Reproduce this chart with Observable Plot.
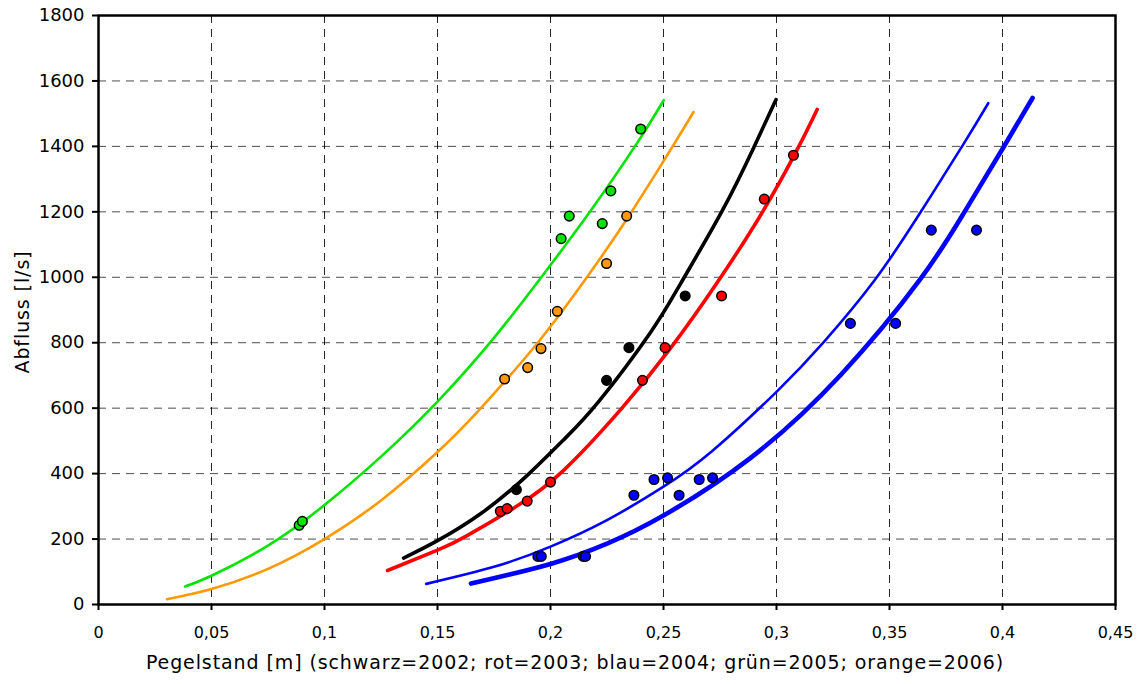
<!DOCTYPE html>
<html>
<head>
<meta charset="utf-8">
<script src="https://cdn.jsdelivr.net/npm/d3@7"></script>
<script src="https://cdn.jsdelivr.net/npm/@observablehq/plot@0.6"></script>
<style>
  body { margin: 0; background: #fff; }
  #chart svg { font-family: "DejaVu Sans", Verdana, sans-serif; }
</style>
</head>
<body>
<div id="chart"></div>
<script>
// Tick values
const xTicks = [0, 0.05, 0.1, 0.15, 0.2, 0.25, 0.3, 0.35, 0.4, 0.45];
const yTicks = [0, 200, 400, 600, 800, 1000, 1200, 1400, 1600, 1800];

// Fitted curves: [Pegelstand m, Abfluss l/s]
const greenCurve = [[0.0383, 55], [0.05, 88], [0.075, 180], [0.1, 304], [0.125, 452], [0.15, 620], [0.175, 815], [0.1955, 996], [0.2176, 1202], [0.2383, 1410], [0.2501, 1541]];
const orangeCurve = [[0.0303, 16], [0.05, 47], [0.075, 109], [0.1, 200], [0.125, 318], [0.15, 466], [0.1689, 598], [0.1947, 803], [0.2161, 1000], [0.2338, 1178], [0.2544, 1404], [0.2633, 1505]];
const blackCurve = [[0.135, 142], [0.15, 195], [0.17, 282], [0.1896, 394], [0.2056, 502], [0.2213, 620], [0.2441, 830], [0.2575, 980], [0.2759, 1202], [0.2899, 1396], [0.2998, 1543]];
const redCurve = [[0.1279, 104], [0.15, 166], [0.1625, 208], [0.185, 300], [0.2058, 410], [0.2316, 600], [0.2532, 784], [0.2734, 980], [0.2941, 1203], [0.3096, 1396], [0.318, 1513]];
const blueThinCurve = [[0.145, 63], [0.175, 115], [0.2, 177], [0.225, 258], [0.25, 360], [0.2717, 470], [0.3, 650], [0.3209, 802], [0.3434, 991], [0.3633, 1194], [0.383, 1410], [0.3937, 1532]];
const blueThickCurve = [[0.1648, 64], [0.2, 124], [0.225, 186], [0.25, 272], [0.2887, 449], [0.3286, 703], [0.3633, 991], [0.3826, 1193], [0.4003, 1396], [0.4133, 1548]];

// Measured points
const greenPts = [[0.0888, 242], [0.0902, 254], [0.2047, 1118], [0.2083, 1187], [0.2229, 1164], [0.2267, 1264], [0.2399, 1453]];
const orangePts = [[0.1797, 689], [0.1899, 724], [0.1958, 782], [0.203, 896], [0.2248, 1042], [0.2337, 1187]];
const blackPts = [[0.1849, 351], [0.2248, 685], [0.2347, 785], [0.2596, 943]];
const redPts = [[0.1778, 285], [0.1808, 293], [0.1897, 316], [0.2, 374], [0.2407, 685], [0.2507, 785], [0.2757, 943], [0.2946, 1239], [0.3075, 1373]];
const bluePts = [[0.1944, 147], [0.1959, 147], [0.2145, 147], [0.2155, 147], [0.2369, 334], [0.2458, 382], [0.2518, 387], [0.2569, 334], [0.2658, 382], [0.2717, 387], [0.3327, 859], [0.3527, 859], [0.3685, 1144], [0.3885, 1144]];

const xTitle = "Pegelstand [m] (schwarz=2002; rot=2003; blau=2004; grün=2005; orange=2006)";
const yTitle = "Abfluss [l/s]";

const toObj = arr => arr.map(([x, y]) => ({x, y}));

const GREEN = "#00e400", ORANGE = "#ff9900", RED = "#ff0000", BLUE = "#0000ff", BLACK = "#000000";

const curveMark = (data, color, w) => Plot.line(toObj(data), {x: "x", y: "y", stroke: color, strokeWidth: w, curve: "natural", strokeLinecap: "round"});
const dotMark = (data, color) => Plot.dot(toObj(data), {x: "x", y: "y", r: 4.8, fill: color, stroke: "black", strokeWidth: 1.5});

const chart = Plot.plot({
  width: 1139,
  height: 684,
  marginLeft: 98,
  marginRight: 24,
  marginTop: 15,
  marginBottom: 80,
  style: {fontFamily: "DejaVu Sans, Verdana, sans-serif", fontSize: "16px", background: "#fff"},
  x: {domain: [0, 0.45], ticks: xTicks},
  y: {domain: [0, 1800], ticks: yTicks},
  marks: [
    Plot.gridX(xTicks, {stroke: "#000", strokeOpacity: 0.85, strokeWidth: 1, strokeDasharray: "8,6"}),
    Plot.gridY(yTicks, {stroke: "#000", strokeOpacity: 0.7, strokeWidth: 1, strokeDasharray: "8,6"}),
    curveMark(greenCurve, GREEN, 2.6),
    curveMark(orangeCurve, ORANGE, 2.6),
    curveMark(blackCurve, BLACK, 3.6),
    curveMark(redCurve, RED, 3.6),
    curveMark(blueThinCurve, BLUE, 2.6),
    curveMark(blueThickCurve, BLUE, 4.6),
    dotMark(greenPts, GREEN),
    dotMark(orangePts, ORANGE),
    dotMark(redPts, RED),
    dotMark(blackPts, BLACK),
    dotMark(bluePts, BLUE),
    Plot.axisX(xTicks, {tickSize: 6, tickPadding: 16, strokeWidth: 2, fontSize: 16, label: null,
      tickFormat: d => String(+d.toFixed(2)).replace(".", ",")}),
    Plot.axisY(yTicks, {tickSize: 6, tickPadding: 8, strokeWidth: 2, fontSize: 18, label: null,
      tickFormat: d => String(d)}),
    Plot.frame({stroke: "black", strokeWidth: 2.5}),
    Plot.text([xTitle], {frameAnchor: "bottom", dx: -32, dy: 64, fontSize: 19, fill: "black"}),
    Plot.text([yTitle], {frameAnchor: "left", textAnchor: "middle", dx: -76, dy: 2, rotate: -90, fontSize: 19, fill: "black"})
  ]
});
d3.select(chart).selectAll("text")
  .filter(function () { const t = this.textContent; return t === xTitle || t === yTitle; })
  .style("letter-spacing", "0.9px");
document.getElementById("chart").appendChild(chart);
</script>
</body>
</html>
